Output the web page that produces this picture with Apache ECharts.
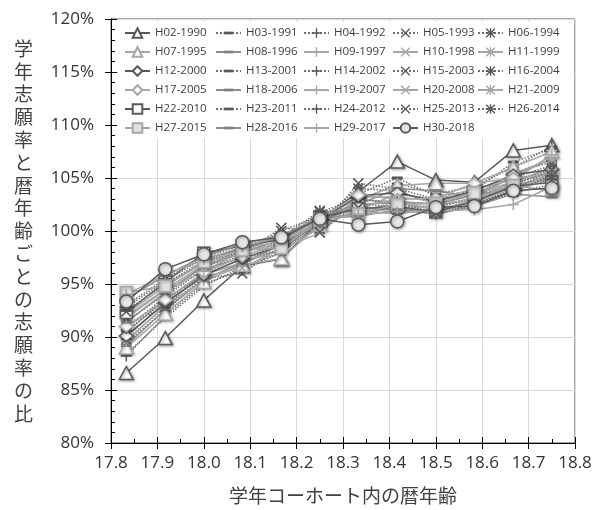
<!DOCTYPE html>
<html><head><meta charset="utf-8">
<script src="https://cdn.jsdelivr.net/npm/echarts@6/dist/echarts.min.js"></script>
<style>html,body{margin:0;padding:0;background:#fff}#c{width:598px;height:510px}</style>
</head><body><div id="c"></div>
<script>
// Ages (x): 17y10m ... 18y9m
const ages = [17.833, 17.917, 18.000, 18.083, 18.167, 18.250, 18.333, 18.417, 18.500, 18.583, 18.667, 18.750];
const xTicks = ['17.8','17.9','18.0','18.1','18.2','18.3','18.4','18.5','18.6','18.7','18.8'];
const yTicks = ['80%','85%','90%','95%','100%','105%','110%','115%','120%'];
const names = ['H02-1990','H03-1991','H04-1992','H05-1993','H06-1994',
  'H07-1995','H08-1996','H09-1997','H10-1998','H11-1999',
  'H12-2000','H13-2001','H14-2002','H15-2003','H16-2004',
  'H17-2005','H18-2006','H19-2007','H20-2008','H21-2009',
  'H22-2010','H23-2011','H24-2012','H25-2013','H26-2014',
  'H27-2015','H28-2016','H29-2017','H30-2018'];
const h02 = [86.6, 89.9, 93.45, 96.7, 97.35, 101.0, 103.7, 106.55, 104.8, 104.6, 107.6, 108.1];
const h03 = [88.4, 91.8, 94.8, 96.6, 98.0, 100.5, 103.5, 105.0, 103.3, 103.8, 106.5, 107.8];
const h04 = [88.2, 92.0, 95.0, 96.3, 98.0, 100.6, 102.8, 104.5, 103.5, 104.2, 106.0, 108.0];
const h05 = [89.5, 92.5, 95.5, 96.0, 98.5, 100.2, 104.5, 104.0, 103.0, 103.5, 105.0, 106.2];
const h06 = [89.8, 92.8, 95.6, 96.8, 98.8, 101.0, 104.0, 103.8, 102.5, 103.0, 105.5, 106.5];
const h07 = [89.0, 92.2, 95.2, 96.8, 97.4, 100.6, 103.0, 104.3, 104.5, 104.5, 106.0, 107.5];
const h08 = [89.2, 92.6, 95.4, 97.0, 98.3, 100.8, 102.5, 104.0, 103.8, 103.2, 105.2, 106.8];
const h09 = [89.6, 93.0, 95.3, 97.2, 98.1, 100.4, 102.0, 103.5, 103.0, 104.0, 104.8, 107.2];
const h10 = [90.0, 93.3, 95.7, 96.5, 98.4, 99.8, 103.2, 103.2, 102.8, 103.6, 104.6, 106.0];
const h11 = [90.4, 93.6, 95.9, 97.0, 98.7, 101.5, 102.9, 102.8, 102.5, 103.4, 105.4, 106.8];
const h12 = [90.1, 93.2, 95.8, 97.4, 98.6, 101.0, 103.3, 103.6, 102.8, 103.8, 105.3, 105.8];
const h13 = [90.6, 93.4, 96.0, 97.3, 98.9, 101.2, 102.0, 102.5, 101.8, 103.0, 104.5, 105.6];
const h14 = [90.8, 93.8, 96.4, 97.5, 98.2, 101.0, 102.3, 102.0, 102.0, 102.8, 104.2, 105.3];
const h15 = [91.2, 92.8, 96.2, 97.8, 100.3, 99.9, 102.6, 102.2, 102.3, 103.0, 104.3, 105.8];
const h16 = [91.5, 94.0, 96.6, 97.9, 99.0, 101.8, 103.0, 102.6, 102.2, 103.2, 104.6, 105.9];
const h17 = [91.0, 93.5, 96.1, 97.6, 98.9, 101.2, 103.4, 103.0, 103.1, 104.5, 105.0, 105.4];
const h18 = [91.4, 94.2, 96.7, 98.0, 99.2, 101.4, 102.5, 102.7, 102.6, 103.4, 104.0, 105.2];
const h19 = [91.8, 94.4, 96.2, 98.1, 98.8, 100.9, 101.8, 102.1, 102.4, 103.1, 104.1, 105.0];
const h20 = [92.0, 94.5, 96.8, 98.2, 99.5, 101.3, 102.4, 102.9, 101.9, 103.0, 104.4, 104.8];
const h21 = [92.2, 94.8, 97.0, 98.4, 99.0, 101.6, 101.9, 101.6, 102.1, 102.7, 104.0, 105.5];
const h22 = [92.3, 95.2, 97.9, 98.6, 99.2, 101.3, 102.1, 102.3, 101.8, 102.8, 104.2, 104.6];
const h23 = [92.5, 95.0, 97.2, 98.5, 99.3, 101.2, 101.5, 102.4, 101.5, 102.6, 103.8, 104.9];
const h24 = [92.8, 95.3, 97.4, 98.3, 99.6, 101.0, 101.7, 102.8, 101.6, 102.4, 103.6, 104.4];
const h25 = [92.4, 95.0, 97.1, 98.0, 100.0, 101.4, 102.2, 102.0, 101.7, 102.5, 103.9, 105.8];
const h26 = [93.0, 95.5, 97.5, 98.7, 99.4, 101.9, 101.8, 102.2, 101.8, 102.5, 103.7, 105.2];
const h27 = [94.2, 94.8, 97.1, 98.2, 98.4, 101.0, 101.6, 102.5, 102.6, 103.6, 104.3, 103.8];
const h28 = [93.6, 95.8, 97.6, 98.8, 99.6, 101.2, 101.4, 102.0, 101.6, 102.3, 103.5, 103.2];
const h29 = [94.0, 95.9, 97.3, 98.5, 99.5, 101.0, 101.6, 101.8, 101.9, 102.0, 102.5, 104.2];
const h30 = [93.35, 96.4, 97.8, 98.95, 99.4, 101.15, 100.6, 100.9, 102.25, 102.35, 103.8, 104.05];
const seriesValues = [h02,h03,h04,h05,h06,h07,h08,h09,h10,h11,h12,h13,h14,h15,h16,
  h17,h18,h19,h20,h21,h22,h23,h24,h25,h26,h27,h28,h29,h30];

const DARK = '#595959', LIGHT = '#a6a6a6', DOT = '#707070';
const DASH = 'path://M0,0M10,10M0,3.6H10V6.4H0Z';
const PLUS = 'path://M4.3,0H5.7V4.3H10V5.7H5.7V10H4.3V5.7H0V4.3H4.3Z';
const XS = 'path://M0,1L1,0L5,4L9,0L10,1L6,5L10,9L9,10L5,6L1,10L0,9L4,5Z';
const AST = XS + 'M4.3,0H5.7V4.3H10V5.7H5.7V10H4.3V5.7H0V4.3H4.3Z';
const shadow = {shadowBlur: 3, shadowColor: 'rgba(0,0,0,0.35)', shadowOffsetX: 1, shadowOffsetY: 1};

function styleFor(i) {
  const row = Math.floor(i / 5), col = i % 5;
  const light = row % 2 === 1;
  if (i === 28) {
    return {symbol: 'circle', symbolSize: 13, line: {color: DARK, width: 1.5, type: 'solid'},
      item: Object.assign({color: '#e6e6e6', borderColor: DARK, borderWidth: 1.5}, shadow)};
  }
  if (col === 0) {
    const sym = ['triangle', 'diamond', 'rect'][Math.floor(row / 2)];
    const size = sym === 'triangle' ? [14, 13] : (sym === 'diamond' ? [14, 11] : 12);
    const c = light ? LIGHT : DARK;
    const fill = (i === 25) ? '#e0e0e0' : '#ffffff';
    return {symbol: sym, symbolSize: size, line: {color: c, width: 1.5, type: 'solid'},
      item: Object.assign({color: fill, borderColor: c, borderWidth: 1.5}, shadow)};
  }
  const sym = [null, DASH, PLUS, XS, AST][col];
  const size = 11;
  if (light) {
    const lc = col === 1 ? '#8c8c8c' : LIGHT;
    return {symbol: sym, symbolSize: size, line: {color: lc, width: 1.5, type: 'solid'},
      item: {color: col === 1 ? '#7f7f7f' : LIGHT, borderWidth: 0}};
  }
  return {symbol: sym, symbolSize: size, line: {color: DOT, width: 1.5, type: 'dotted'},
    item: {color: DARK, borderWidth: 0}};
}

const series = names.map((n, i) => {
  const st = styleFor(i);
  return {
    name: n, type: 'line', xAxisIndex: 0, yAxisIndex: 0,
    data: ages.map((a, k) => [a, seriesValues[i][k]]),
    symbol: st.symbol, symbolSize: st.symbolSize, showAllSymbol: true,
    lineStyle: st.line, itemStyle: st.item, emphasis: {disabled: true}, animation: false
  };
});

const legendLefts = [124, 215, 303, 392, 477];
const legends = legendLefts.map((lx, c) => ({
  orient: 'vertical', left: lx, top: 27, padding: 0,
  itemWidth: 25, itemHeight: 12, itemGap: 7,
  data: names.filter((n, i) => i % 5 === c),
  textStyle: {fontSize: 11.5, color: '#404040', fontFamily: 'Open Sans'},
  selectedMode: false
}));

const yTitle = '学年志願率と暦年齢ごとの志願率の比'.split('').join('\n');
const font = 'Open Sans';
const chart = echarts.init(document.getElementById('c'), null, {renderer: 'canvas'});
chart.setOption({
  backgroundColor: '#ffffff',
  animation: false,
  grid: {left: 111, right: 23, top: 19, bottom: 63, show: true, borderColor: DARK, borderWidth: 1},
  graphic: [{type: 'rect', z: 3, shape: {x: 118, y: 22, width: 455, height: 116}, style: {fill: '#ffffff'}}],
  legend: legends,
  xAxis: [{
    type: 'value', min: 17.8, max: 18.8, interval: 0.1, position: 'bottom',
    axisLine: {show: true, lineStyle: {color: '#000', width: 1}},
    axisTick: {show: true, inside: false, length: 6, lineStyle: {color: '#000'}},
    axisLabel: {margin: 12, fontSize: 17, color: '#333', fontFamily: font,
      formatter: v => xTicks[Math.round((v - 17.8) * 10)]},
    splitLine: {show: true, lineStyle: {color: '#d9d9d9', width: 1}},
    name: '学年コーホート内の暦年齢', nameLocation: 'middle', nameGap: 43,
    nameTextStyle: {fontSize: 19, color: '#404040', fontFamily: 'Noto Sans CJK JP'}
  }, {
    type: 'value', min: 17.8, max: 18.8, interval: 0.1, position: 'bottom',
    axisLine: {show: false}, axisLabel: {show: false}, splitLine: {show: false},
    axisTick: {show: true, inside: true, length: 6, lineStyle: {color: '#000'}},
    minorTick: {show: true, splitNumber: 2, length: 4, lineStyle: {color: '#000'}}
  }],
  yAxis: [{
    type: 'value', min: 80, max: 120, interval: 5, position: 'left',
    axisLine: {show: true, lineStyle: {color: '#000', width: 1}},
    axisTick: {show: true, inside: false, length: 6, lineStyle: {color: '#000'}},
    axisLabel: {margin: 17, fontSize: 17, color: '#333', fontFamily: font,
      formatter: v => yTicks[Math.round((v - 80) / 5)]},
    splitLine: {show: true, lineStyle: {color: '#d9d9d9', width: 1}},
    name: yTitle, nameLocation: 'middle', nameGap: 78, nameRotate: 0,
    nameTextStyle: {fontSize: 19, lineHeight: 22.8, color: '#404040', fontFamily: 'Noto Sans CJK JP', padding: [16, 0, 0, 0]}
  }, {
    type: 'value', min: 80, max: 120, interval: 5, position: 'left',
    axisLine: {show: false}, axisLabel: {show: false}, splitLine: {show: false},
    axisTick: {show: true, inside: true, length: 6, lineStyle: {color: '#000'}},
    minorTick: {show: true, splitNumber: 5, length: 4, lineStyle: {color: '#000'}}
  }],
  series: series
});
</script></body></html>
